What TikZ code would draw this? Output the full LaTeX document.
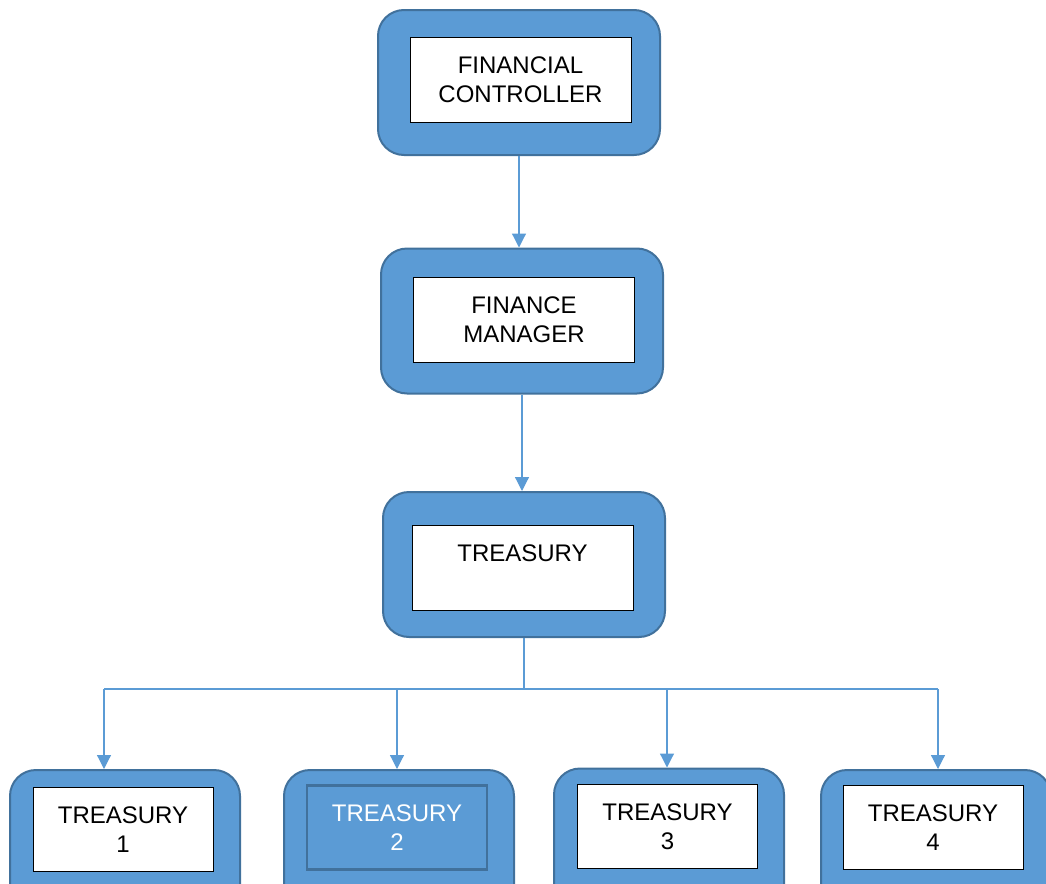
\documentclass[tikz,border=0pt]{standalone}
\usepackage{fontspec}
\setmainfont{Liberation Sans}
\usepackage{xcolor}
\usetikzlibrary{positioning, shapes, arrows.meta, calc}

\definecolor{boxblue}{HTML}{5B9BD5}
\definecolor{edgeblue}{HTML}{41719C}

\begin{document}
\begin{tikzpicture}[
    x=0.5pt, y=-0.5pt,
    font=\fontsize{12}{14.5}\selectfont,
    outer/.style={rectangle, rounded corners=13pt, draw=edgeblue, line width=1pt, fill=boxblue, minimum width=141pt, minimum height=72.5pt},
    smallouter/.style={outer, minimum width=115pt},
    inner/.style={rectangle, draw=black, line width=0.5pt, fill=white, align=center, minimum width=110.5pt, minimum height=42.5pt, inner sep=0pt},
    smallinner/.style={inner, minimum width=90pt, minimum height=42pt},
    darkinner/.style={smallinner, draw=edgeblue, line width=1.2pt, fill=boxblue, text=white},
    line/.style={draw=boxblue, line width=0.6pt},
    arrow/.style={line, -{Triangle[width=7pt, length=7pt]}}
]

\clip (0,0) rectangle (1046,884);

% Main chain
\node[outer] (fc) at (519,82.5) {};
\node[inner] (fc_in) at (520.5,80) {FINANCIAL\\CONTROLLER};
\node[outer] (fm) at (522,321) {};
\node[inner] (fm_in) at (524,320) {FINANCE\\MANAGER};
\node[outer] (tr) at (524,564.5) {};
\node[inner] (tr_in) at (522.5,567.5) {TREASURY\\\mbox{}};

% Treasury units
\node[smallouter] (t1) at (125,842.5) {};
\node[smallinner] (t1_in) at (123,829.5) {TREASURY\\1};
\node[smallouter] (t2) at (399,842.5) {};
\node[darkinner] (t2_in) at (397,827.5) {TREASURY\\2};
\node[smallouter] (t3) at (669,841) {};
\node[smallinner] (t3_in) at (667.5,826.5) {TREASURY\\3};
\node[smallouter] (t4) at (936,842.5) {};
\node[smallinner] (t4_in) at (933,827.5) {TREASURY\\4};

% Connectors
\draw[arrow] (fc.south) -- (fc.south |- fm.north);
\draw[arrow] (fm.south) -- (fm.south |- tr.north);

\coordinate (bus) at (524,689);
\coordinate (d1) at (104,689);
\coordinate (d2) at (397,689);
\coordinate (d3) at (667,689);
\coordinate (d4) at (938,689);
\draw[line] (tr.south) -- (bus);
\draw[line] (d1) -- (d4);
\foreach \i in {1,...,4}
    \draw[arrow] (d\i) -- (d\i |- t\i.north);

\end{tikzpicture}
\end{document}
